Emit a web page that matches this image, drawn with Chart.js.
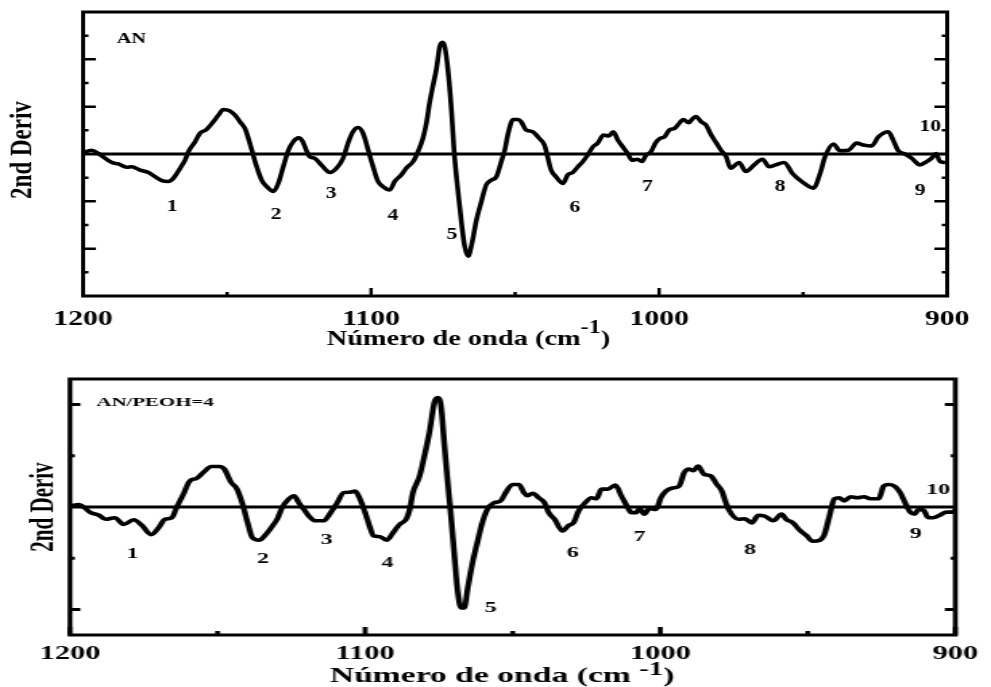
<!DOCTYPE html>
<html>
<head>
<meta charset="utf-8">
<title>2nd Deriv - AN / AN/PEOH=4</title>
<script src="https://cdn.jsdelivr.net/npm/chart.js@4.4.1/dist/chart.umd.min.js"></script>
<style>
  html, body { margin: 0; padding: 0; background: #fff; }
  body { width: 991px; height: 687px; position: relative; overflow: hidden; }
  canvas { position: absolute; left: 0; }
</style>
</head>
<body>
<!-- both canvases are drawn narrow and stretched wide, like the original plots -->
<canvas id="chartAN" width="734" height="355" style="top:0;width:991px;height:355px"></canvas>
<canvas id="chartPEOH" width="619" height="327" style="top:360px;width:991px;height:327px"></canvas>
<script>
// ============================================================
// DATA
// ============================================================
const X_TICKS = [1200, 1100, 1000, 900];
const X_MINOR = [1150, 1050, 950];

// --- AN ---
const WAVENUMBER_AN = [
  1200, 1197, 1194.7, 1190, 1187.7, 1184.8, 1183.1, 1180.2, 1177.3, 1175, 1172.7, 1170.4, 1168.6,
  1166.3, 1164.6, 1163.4, 1161.1, 1159.4, 1157.3, 1154.8, 1153, 1151.3, 1149, 1147.2, 1145.5,
  1143.8, 1142.6, 1141.4, 1139.7, 1138, 1136.2, 1133.9, 1132.2, 1130.5, 1128.7, 1127, 1125.2,
  1123.8, 1122.5, 1121.3, 1119.6, 1117.3, 1114.3, 1112, 1109.7, 1108, 1106.3, 1104.5, 1102.8,
  1101, 1099.3, 1097.6, 1095.8, 1093.5, 1091.8, 1089.5, 1087.8, 1085.4, 1083.7, 1082, 1080.8,
  1079.7, 1078.5, 1077.3, 1076.2, 1075.2, 1074.4, 1073.3, 1072.1, 1071.2, 1070, 1068.6, 1067.5,
  1066.3, 1065.2, 1063.4, 1061.7, 1060, 1058.2, 1056.5, 1054.8, 1053.6, 1052.4, 1050.7, 1049,
  1047.9, 1046.2, 1043.9, 1041.6, 1039.8, 1038.7, 1037.5, 1035.8, 1033.4, 1031.7, 1030, 1028.2,
  1026.5, 1024.8, 1023, 1021.3, 1019.3, 1017.5, 1015.9, 1014.3, 1012.6, 1010.9, 1009.4, 1007.5,
  1006, 1004.5, 1002.8, 1001.3, 999.7, 998.2, 996.4, 994.7, 993, 991.6, 989.7, 988.3, 987.2,
  985.4, 983.7, 981.9, 980.2, 978.5, 976.7, 975.2, 972.2, 969.9, 967, 964.1, 961.8, 959.5,
  956.6, 953.7, 950.5, 946.4, 944.1, 942.4, 939.5, 937.2, 934.3, 931.4, 929.1, 926.2, 923.9,
  920.4, 918.7, 917, 914.6, 912.3, 909.4, 907.1, 905.4, 903.9, 902.5, 900.7
];
const DERIV_AN = [
  0.03, 0.08, 0.01, -0.18, -0.21, -0.28, -0.27, -0.34, -0.39, -0.48, -0.56, -0.58, -0.51,
  -0.30, -0.13, 0.05, 0.26, 0.44, 0.51, 0.68, 0.82, 0.94, 0.91, 0.82, 0.68,
  0.54, 0.33, 0.08, -0.27, -0.55, -0.69, -0.79, -0.62, -0.27, 0.08, 0.26, 0.34,
  0.27, 0.08, -0.06, -0.09, -0.23, -0.39, -0.30, -0.09, 0.23, 0.47, 0.56, 0.44,
  0.08, -0.27, -0.58, -0.69, -0.76, -0.58, -0.44, -0.30, -0.16, 0.05, 0.33, 0.65,
  1.07, 1.45, 1.80, 2.26, 2.36, 2.26, 1.77, 0.93, 0.08, -0.69, -1.46, -1.95,
  -2.16, -1.95, -1.39, -1.00, -0.65, -0.55, -0.48, -0.16, 0.08, 0.44, 0.73, 0.73,
  0.68, 0.51, 0.47, 0.33, 0.19, -0.06, -0.34, -0.48, -0.62, -0.44, -0.39, -0.27,
  -0.16, -0.02, 0.15, 0.23, 0.40, 0.38, 0.47, 0.29, 0.15, 0.01, -0.13, -0.11,
  -0.16, -0.02, 0.05, 0.23, 0.33, 0.36, 0.51, 0.54, 0.65, 0.73, 0.66, 0.75, 0.79,
  0.68, 0.61, 0.40, 0.24, 0.08, -0.06, -0.30, -0.18, -0.37, -0.23, -0.11, -0.27, -0.23,
  -0.18, -0.41, -0.58, -0.72, -0.41, -0.06, 0.21, 0.07, 0.08, 0.23, 0.19, 0.17, 0.36,
  0.47, 0.29, 0.07, 0.00, -0.09, -0.23, -0.16, -0.09, 0.01, -0.16, -0.18
];

// --- AN/PEOH=4 ---
const WAVENUMBER_PEOH = [
  1200, 1196.9, 1195.2, 1193, 1190.2, 1187.9, 1184.8, 1181.8, 1178.4, 1175.6, 1172.5, 1170,
  1167.8, 1165.5, 1163.9, 1161.6, 1159.4, 1157.1, 1154.9, 1152.1, 1149.3, 1147.7, 1145.4, 1143.4,
  1141.5, 1139.8, 1138.2, 1135.9, 1133.7, 1131.4, 1129.8, 1128.1, 1125.8, 1124.1, 1122.4, 1120.7,
  1118.5, 1116.8, 1114, 1111.7, 1109.5, 1107.3, 1105, 1103.4, 1101.7, 1100, 1098.3, 1097.2,
  1095, 1092.7, 1090.5, 1088.3, 1086, 1084.9, 1083.8, 1081.5, 1079.9, 1078.2, 1076.5, 1075.4,
  1074.3, 1073.2, 1072, 1070.9, 1069.8, 1068.7, 1067.5, 1066.4, 1065.3, 1063.6, 1062, 1060.3,
  1058.6, 1056.4, 1054.1, 1052.4, 1050.1, 1047.9, 1046.2, 1045.1, 1043.2, 1041.2, 1039.2, 1037.8,
  1035.8, 1033.1, 1031.1, 1029.4, 1027.7, 1025.5, 1023.3, 1021.6, 1019.9, 1017.7, 1015.2, 1013.2,
  1011, 1009.8, 1008.2, 1007, 1005.4, 1003.7, 1001.4, 999.8, 998.1, 995.9, 993.6, 991.9,
  990.3, 988.8, 987.2, 985.2, 983, 980.8, 979.1, 978, 976.8, 973.5, 971.3, 969,
  966.8, 964.5, 961.7, 958.9, 957.3, 955, 952.8, 950.6, 948.3, 945.9, 944.4, 942.7,
  941, 939.4, 937.7, 935.5, 933.2, 931, 928.8, 926, 924.3, 922.6, 920.4, 918.7,
  917, 915.3, 913.8, 912.5, 910.8, 909.2, 907.5, 905.3, 903, 900.8, 900
];
const DERIV_PEOH = [
  0.02, 0.05, -0.01, -0.11, -0.16, -0.24, -0.21, -0.34, -0.25, -0.36, -0.54, -0.41,
  -0.24, -0.21, -0.01, 0.25, 0.51, 0.56, 0.67, 0.79, 0.79, 0.74, 0.48, 0.35,
  0.05, -0.31, -0.60, -0.65, -0.54, -0.37, -0.24, -0.01, 0.16, 0.22, 0.08, -0.05,
  -0.21, -0.27, -0.27, -0.11, 0.08, 0.28, 0.29, 0.31, 0.15, -0.11, -0.41, -0.56,
  -0.58, -0.65, -0.50, -0.34, -0.23, -0.05, 0.28, 0.61, 1.00, 1.46, 2.05, 2.14,
  1.98, 1.26, 0.48, -0.18, -0.90, -1.61, -1.97, -1.97, -1.61, -1.09, -0.70, -0.31,
  -0.05, 0.08, 0.12, 0.28, 0.44, 0.44, 0.28, 0.22, 0.27, 0.18, 0.08, -0.11,
  -0.24, -0.47, -0.36, -0.31, -0.08, 0.08, 0.18, 0.16, 0.35, 0.35, 0.43, 0.22,
  -0.01, -0.11, -0.11, -0.03, -0.14, -0.03, -0.05, 0.18, 0.31, 0.37, 0.41, 0.67,
  0.74, 0.71, 0.80, 0.64, 0.61, 0.44, 0.31, 0.12, -0.05, -0.24, -0.23, -0.31,
  -0.16, -0.18, -0.27, -0.14, -0.24, -0.31, -0.45, -0.55, -0.67, -0.65, -0.54, -0.18,
  0.16, 0.18, 0.12, 0.20, 0.18, 0.20, 0.16, 0.16, 0.41, 0.44, 0.40, 0.28,
  0.08, -0.10, -0.14, -0.05, -0.06, -0.21, -0.21, -0.16, -0.10, -0.10, -0.05
];

// baseline across the full range
const ZERO_X = [1200, 900];
const ZERO_Y = [0, 0];

// band numbers and where they sit (wavenumber, 2nd deriv units)
const BAND_NAMES = ['1', '2', '3', '4', '5', '6', '7', '8', '9', '10'];
const BAND_X_AN = [1169.1, 1133, 1113.9, 1092.4, 1071.9, 1029.2, 1004.1, 958, 909.4, 905.9];
const BAND_Y_AN = [-1.12, -1.28, -0.84, -1.31, -1.71, -1.14, -0.69, -0.69, -0.77, 0.57];
const BAND_X_PEOH = [1178.8, 1134.6, 1113, 1092.4, 1057.4, 1029.6, 1007, 969.6, 913.4, 905.8];
const BAND_Y_PEOH = [-0.92, -1.01, -0.65, -1.09, -1.97, -0.90, -0.58, -0.84, -0.53, 0.32];

// y tick marks (no labels on this axis)
const Y_MAJOR_AN = [-2, -1, 1, 2];
const Y_MINOR_AN = [-2.5, -1.5, -0.5, 0.5, 1.5, 2.5];
const Y_MAJOR_PEOH = [-2, 2];
const Y_MINOR_PEOH = [-1, 1];

const SERIF = '"Liberation Serif", "Times New Roman", Times, serif';

// ============================================================
// PLUGINS
// ============================================================

// box around the plot with inward tick marks on all sides
const frameTicks = {
  id: 'frameTicks',
  afterDatasetsDraw(chart, args, o) {
    const { ctx, chartArea: a, scales: { x, y } } = chart;
    ctx.save();
    ctx.strokeStyle = '#000';
    ctx.lineCap = 'butt';
    ctx.lineWidth = o.tickWidth;
    ctx.beginPath();
    const yTick = (v, len) => {
      const py = y.getPixelForValue(v);
      ctx.moveTo(a.left, py); ctx.lineTo(a.left + len, py);
      ctx.moveTo(a.right, py); ctx.lineTo(a.right - len, py);
    };
    const xTick = (v, len) => {
      const px = x.getPixelForValue(v);
      ctx.moveTo(px, a.bottom); ctx.lineTo(px, a.bottom - len);
    };
    o.yMajor.forEach(v => yTick(v, o.yMajorLen));
    o.yMinor.forEach(v => yTick(v, o.yMinorLen));
    X_TICKS.forEach(v => xTick(v, o.xMajorLen));
    X_MINOR.forEach(v => xTick(v, o.xMinorLen));
    ctx.stroke();
    ctx.lineWidth = o.frameWidth;
    ctx.strokeRect(a.left, a.top, a.right - a.left, a.bottom - a.top);
    ctx.restore();
  }
};

// band numbers, sample tag and the two axis titles
const annotations = {
  id: 'annotations',
  afterDraw(chart, args, o) {
    const { ctx, scales: { x, y } } = chart;
    ctx.save();
    ctx.fillStyle = '#000';

    // band numbers
    ctx.font = `bold ${o.bandSize}px ${SERIF}`;
    ctx.textAlign = 'center';
    ctx.textBaseline = 'middle';
    BAND_NAMES.forEach((name, i) => {
      ctx.fillText(name, x.getPixelForValue(o.bandX[i]), y.getPixelForValue(o.bandY[i]));
    });

    // sample tag, top-left inside the box
    ctx.font = `bold ${o.tagSize}px ${SERIF}`;
    ctx.textAlign = 'left';
    ctx.fillText(o.tag, x.getPixelForValue(o.tagAt[0]), y.getPixelForValue(o.tagAt[1]));

    // x title with a raised "-1"
    ctx.textBaseline = 'alphabetic';
    let cx = o.xTitle.x;
    o.xTitle.parts.forEach(p => {
      ctx.font = `bold ${p.size}px ${SERIF}`;
      ctx.fillText(p.text, cx, o.xTitle.y - (p.rise || 0));
      cx += ctx.measureText(p.text).width;
    });

    // rotated y title
    ctx.font = `bold ${o.yTitle.size}px ${SERIF}`;
    ctx.translate(o.yTitle.x, o.yTitle.y);
    ctx.rotate(-Math.PI / 2);
    ctx.textAlign = 'center';
    ctx.textBaseline = 'middle';
    ctx.fillText('2nd Deriv', 0, 0);
    ctx.restore();
  }
};

// ============================================================
// CHART BUILDER
// ============================================================
function toPoints(xs, ys) {
  return xs.map((v, i) => ({ x: v, y: ys[i] }));
}

function makeSpectrum(canvasId, cfg) {
  return new Chart(document.getElementById(canvasId), {
    type: 'line',
    data: {
      datasets: [
        {
          data: toPoints(ZERO_X, ZERO_Y),
          borderColor: '#000',
          borderWidth: 3,
          pointRadius: 0
        },
        {
          data: toPoints(cfg.wavenumber, cfg.deriv),
          borderColor: '#000',
          borderWidth: 3.6,
          pointRadius: 0,
          cubicInterpolationMode: 'monotone'
        }
      ]
    },
    options: {
      responsive: false,
      devicePixelRatio: 1,
      animation: false,
      events: [],
      layout: { padding: cfg.padding },
      plugins: {
        legend: { display: false },
        tooltip: { enabled: false },
        frameTicks: cfg.ticks,
        annotations: cfg.notes
      },
      scales: {
        x: {
          type: 'linear',
          reverse: true,
          min: 900,
          max: 1200,
          grid: { display: false, drawTicks: false },
          border: { display: false },
          afterBuildTicks: s => { s.ticks = X_TICKS.map(v => ({ value: v })); },
          afterFit: s => { s.height = cfg.xAxisHeight; },
          ticks: {
            autoSkip: false,
            maxRotation: 0,
            padding: cfg.tickPadding,
            color: '#000',
            font: { family: SERIF, size: cfg.tickSize, weight: 'bold' },
            callback: v => String(v)
          }
        },
        y: { display: false, min: cfg.yRange[0], max: cfg.yRange[1] }
      }
    },
    plugins: [frameTicks, annotations]
  });
}

// ============================================================
// INIT
// ============================================================
makeSpectrum('chartAN', {
  wavenumber: WAVENUMBER_AN,
  deriv: DERIV_AN,
  yRange: [-3, 3],
  padding: { left: 61.5, right: 32.5, top: 12, bottom: 0 },
  xAxisHeight: 59,
  tickPadding: 10,
  tickSize: 22,
  ticks: {
    yMajor: Y_MAJOR_AN, yMinor: Y_MINOR_AN,
    yMajorLen: 9.5, yMinorLen: 4, xMajorLen: 8, xMinorLen: 4,
    tickWidth: 2.5, frameWidth: 3
  },
  notes: {
    bandX: BAND_X_AN, bandY: BAND_Y_AN, bandSize: 16,
    tag: 'AN', tagAt: [1188.3, 2.42], tagSize: 15,
    xTitle: {
      x: 242, y: 345,
      parts: [
        { text: 'Número de onda (cm', size: 21 },
        { text: '-1', size: 18, rise: 12 },
        { text: ')', size: 21 }
      ]
    },
    yTitle: { x: 17, y: 150, size: 23 }
  }
});

makeSpectrum('chartPEOH', {
  wavenumber: WAVENUMBER_PEOH,
  deriv: DERIV_PEOH,
  yRange: [-2.5, 2.5],
  padding: { left: 43.7, right: 17.5, top: 19, bottom: 0 },
  xAxisHeight: 52,
  tickPadding: 8,
  tickSize: 19,
  ticks: {
    yMajor: Y_MAJOR_PEOH, yMinor: Y_MINOR_PEOH,
    yMajorLen: 6.5, yMinorLen: 3, xMajorLen: 8, xMinorLen: 4,
    tickWidth: 3, frameWidth: 3
  },
  notes: {
    bandX: BAND_X_PEOH, bandY: BAND_Y_PEOH, bandSize: 15,
    tag: 'AN/PEOH=4', tagAt: [1191, 2.04], tagSize: 13,
    xTitle: {
      x: 206, y: 322,
      parts: [
        { text: 'Número de onda (cm ', size: 21 },
        { text: '-1', size: 18, rise: 7 },
        { text: ')', size: 21 }
      ]
    },
    yTitle: { x: 27.5, y: 147, size: 21 }
  }
});
</script>
</body>
</html>
